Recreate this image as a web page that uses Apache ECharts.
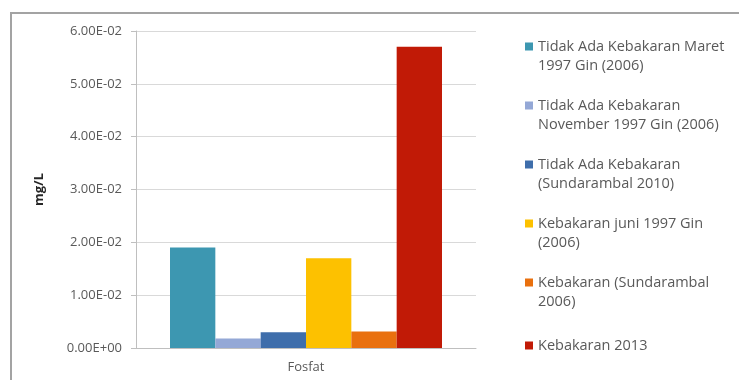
<!DOCTYPE html>
<html lang="en">
<head>
  <meta charset="UTF-8">
  <title>Fosfat</title>
  <style>
    html, body { margin: 0; padding: 0; background: #fff; }
  </style>
</head>
<body>
  <div id="main" style="width:739px;height:380px"></div>

  <script src="https://cdn.jsdelivr.net/npm/echarts@6/dist/echarts.min.js"></script>

  <script>
    var categories = ['Fosfat']
    var seriesNames = [
      'Tidak Ada Kebakaran Maret\n1997 Gin (2006)',
      'Tidak Ada Kebakaran\nNovember 1997 Gin (2006)',
      'Tidak Ada Kebakaran\n(Sundarambal 2010)',
      'Kebakaran juni 1997 Gin\n(2006)',
      'Kebakaran (Sundarambal\n2006)',
      'Kebakaran 2013'
    ]
    var seriesValues = [0.019, 0.0018, 0.003, 0.017, 0.0031, 0.057]
    var seriesColors = ['#3d97b1', '#94a8d6', '#3f6eab', '#fdc100', '#e9700e', '#c11a06']
    var yTickLabels = ['0.00E+00', '1.00E-02', '2.00E-02', '3.00E-02', '4.00E-02', '5.00E-02', '6.00E-02']

    // legend icons are 8 x 27; the square sits at the top for two-line names,
    // in the middle for the single-line one
    var topIcon = 'path://M0 0h8v8H0z M0 27h8v0.001H0z'
    var midIcon = 'path://M0 9.5h8v8H0z M0 0h8v0.001H0z M0 27h8v0.001H0z'

    var myChart = echarts.init(document.getElementById('main'))

    var series = seriesNames.map(function (name, i) {
      return {
        name: name,
        type: 'bar',
        barGap: 0,
        barCategoryGap: '20%',
        itemStyle: { color: seriesColors[i] },
        data: [seriesValues[i]]
      }
    })

    var options = {
      animation: false,
      textStyle: { fontFamily: 'Open Sans' },
      graphic: [{
        type: 'rect',
        shape: { x: 11, y: 13, width: 760, height: 400 },
        style: { fill: 'none', stroke: '#a3a3a3', lineWidth: 2 },
        silent: true
      }],
      grid: { left: 136, right: 263, top: 31, bottom: 32 },
      legend: {
        orient: 'vertical',
        left: 525,
        top: 37,
        padding: 0,
        itemGap: 21,
        itemWidth: 8,
        itemHeight: 27,
        textStyle: { fontSize: 14.5, color: '#595959', lineHeight: 19 },
        data: seriesNames.map(function (n) {
          return { name: n, icon: n.indexOf('\n') >= 0 ? topIcon : midIcon }
        })
      },
      xAxis: {
        type: 'category',
        data: categories,
        axisLine: { lineStyle: { color: '#bfbfbf' } },
        axisTick: { show: false },
        axisLabel: { color: '#595959', fontSize: 13, margin: 13 }
      },
      yAxis: {
        type: 'value',
        min: 0,
        max: 0.06,
        interval: 0.01,
        name: 'mg/L',
        nameLocation: 'middle',
        nameGap: 90,
        nameTextStyle: { fontWeight: 'bold', fontSize: 13, color: '#262626' },
        axisLine: { show: true, lineStyle: { color: '#bfbfbf' } },
        axisTick: { show: true, length: 5, lineStyle: { color: '#bfbfbf' } },
        splitLine: { lineStyle: { color: '#d9d9d9' } },
        axisLabel: {
          color: '#595959',
          fontSize: 13,
          margin: 14,
          formatter: function (v, i) { return yTickLabels[i] }
        }
      },
      series: series
    }
    myChart.setOption(options)
  </script>
</body>
</html>
